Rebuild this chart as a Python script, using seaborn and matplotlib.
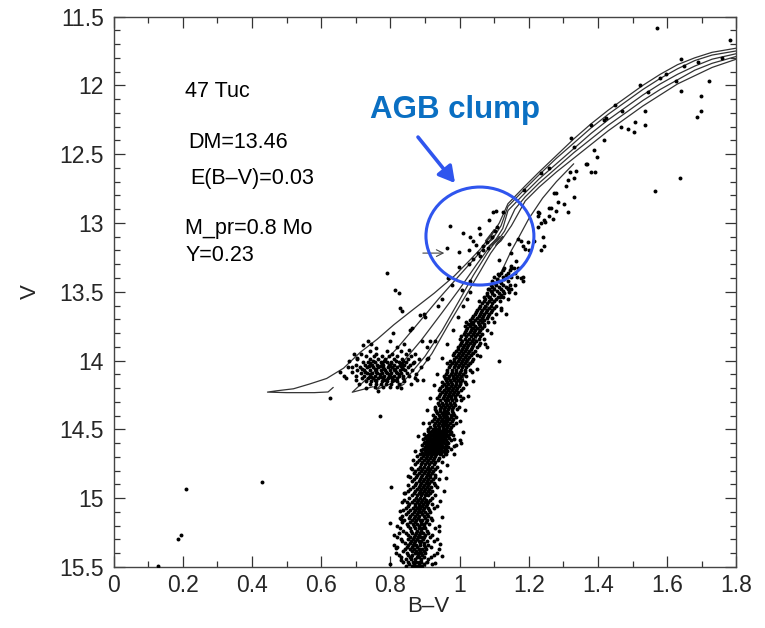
import matplotlib
matplotlib.use("Agg")
import matplotlib.pyplot as plt
import seaborn as sns
import pandas as pd
from matplotlib.patches import Ellipse
from matplotlib.ticker import MultipleLocator

# ---------------- data ----------------
x_ticks = [0, 0.2, 0.4, 0.6, 0.8, 1.0, 1.2, 1.4, 1.6, 1.8]
x_tick_labels = ["0", "0.2", "0.4", "0.6", "0.8", "1", "1.2", "1.4", "1.6", "1.8"]
y_ticks = [11.5, 12, 12.5, 13, 13.5, 14, 14.5, 15, 15.5]
y_tick_labels = ["11.5", "12", "12.5", "13", "13.5", "14", "14.5", "15", "15.5"]

# lower red giant branch: V -> list of B-V
lower_rgb_rows = {
    15.49: [0.845, 0.862, 0.871, 0.879, 0.886, 0.893],
    15.46: [0.838, 0.852, 0.866, 0.874, 0.882, 0.89, 0.905],
    15.43: [0.83, 0.856, 0.861, 0.877, 0.884, 0.897, 0.918],
    15.40: [0.815, 0.848, 0.87, 0.879, 0.888, 0.9, 0.935],
    15.37: [0.842, 0.858, 0.868, 0.883, 0.892, 0.904, 0.94],
    15.34: [0.81, 0.852, 0.866, 0.874, 0.887, 0.896, 0.91],
    15.31: [0.835, 0.86, 0.872, 0.882, 0.89, 0.905, 0.925],
    15.28: [0.82, 0.856, 0.868, 0.879, 0.889, 0.898, 0.915],
    15.25: [0.845, 0.863, 0.874, 0.886, 0.894, 0.908],
    15.22: [0.828, 0.856, 0.87, 0.882, 0.891, 0.9, 0.93],
    15.19: [0.848, 0.866, 0.878, 0.888, 0.897, 0.912],
    15.16: [0.84, 0.862, 0.874, 0.885, 0.893, 0.905, 0.92],
    15.13: [0.835, 0.858, 0.872, 0.884, 0.896, 0.91],
    15.10: [0.852, 0.868, 0.88, 0.889, 0.9, 0.916],
    15.07: [0.845, 0.865, 0.877, 0.887, 0.898, 0.908, 0.925],
    15.04: [0.855, 0.872, 0.883, 0.894, 0.905, 0.92],
    15.01: [0.84, 0.868, 0.88, 0.892, 0.902, 0.915],
    14.98: [0.862, 0.876, 0.89, 0.899, 0.91, 0.928],
    14.95: [0.85, 0.872, 0.887, 0.897, 0.908, 0.92],
    14.92: [0.866, 0.883, 0.895, 0.905, 0.918, 0.935],
    14.89: [0.875, 0.89, 0.902, 0.912, 0.925],
    14.86: [0.868, 0.886, 0.898, 0.91, 0.922, 0.94],
    14.83: [0.878, 0.893, 0.905, 0.916, 0.93],
    14.80: [0.872, 0.888, 0.9, 0.912, 0.924, 0.945],
    14.77: [0.885, 0.897, 0.909, 0.92, 0.935],
    14.74: [0.878, 0.893, 0.905, 0.917, 0.93, 0.948],
    14.71: [0.89, 0.902, 0.914, 0.926, 0.94],
    14.68: [0.885, 0.9, 0.91, 0.92, 0.932, 0.945, 0.96],
    14.66: [0.9, 0.912, 0.922, 0.93, 0.94, 0.952, 0.965],
    14.64: [0.895, 0.908, 0.918, 0.928, 0.937, 0.946, 0.958, 0.975],
    14.62: [0.903, 0.914, 0.924, 0.933, 0.942, 0.95, 0.962, 0.985],
    14.60: [0.898, 0.91, 0.92, 0.93, 0.938, 0.947, 0.955, 0.968],
    14.58: [0.905, 0.917, 0.926, 0.935, 0.944, 0.952, 0.961, 0.975, 1.0],
    14.56: [0.9, 0.912, 0.922, 0.932, 0.94, 0.949, 0.958, 0.97],
    14.54: [0.908, 0.918, 0.928, 0.937, 0.946, 0.955, 0.966, 0.98],
    14.52: [0.915, 0.925, 0.935, 0.944, 0.953, 0.962, 0.975],
    14.50: [0.91, 0.922, 0.932, 0.942, 0.951, 0.96, 0.972],
    14.47: [0.925, 0.937, 0.948, 0.957, 0.968, 0.98],
    14.44: [0.92, 0.935, 0.946, 0.955, 0.965, 0.978],
    14.41: [0.93, 0.943, 0.954, 0.963, 0.974, 0.99],
    14.38: [0.935, 0.948, 0.958, 0.968, 0.98],
    14.35: [0.93, 0.945, 0.956, 0.966, 0.977, 0.992],
    14.32: [0.94, 0.952, 0.963, 0.974, 0.986],
    14.29: [0.945, 0.958, 0.968, 0.978, 0.99, 1.005],
    14.26: [0.94, 0.955, 0.966, 0.976, 0.988, 1.0],
    14.23: [0.95, 0.962, 0.973, 0.984, 0.996],
    14.20: [0.945, 0.96, 0.97, 0.981, 0.992, 1.01],
    14.17: [0.955, 0.967, 0.978, 0.99, 1.002, 1.02],
    14.14: [0.96, 0.972, 0.985, 0.996, 1.008],
    14.11: [0.955, 0.97, 0.982, 0.993, 1.005, 1.02],
    14.08: [0.965, 0.978, 0.99, 1.002, 1.015, 1.035],
    14.05: [0.97, 0.983, 0.996, 1.008, 1.02],
    14.02: [0.978, 0.99, 1.003, 1.015, 1.03],
    13.99: [0.985, 0.998, 1.01, 1.022, 1.04],
    13.96: [0.98, 0.995, 1.007, 1.02, 1.033, 1.05],
    13.93: [0.99, 1.003, 1.016, 1.028, 1.045],
    13.90: [0.995, 1.01, 1.023, 1.036, 1.05, 1.08],
    13.87: [1.005, 1.018, 1.03, 1.043, 1.06],
    13.84: [1.0, 1.015, 1.028, 1.04, 1.055, 1.07],
    13.81: [1.012, 1.025, 1.038, 1.05, 1.065],
    13.78: [1.02, 1.033, 1.046, 1.06, 1.078],
    13.75: [1.015, 1.03, 1.044, 1.058, 1.072],
    13.72: [1.02, 1.04, 1.053, 1.066, 1.082],
    13.69: [1.035, 1.05, 1.064, 1.078, 1.095],
    13.66: [1.044, 1.058, 1.072, 1.086, 1.105, 1.134],
    13.63: [1.05, 1.066, 1.08, 1.094, 1.12],
    13.60: [1.06, 1.075, 1.09, 1.105],
    13.57: [1.055, 1.07, 1.085, 1.1, 1.118],
    13.54: [1.07, 1.085, 1.11, 1.125],
    13.51: [1.08, 1.095, 1.115, 1.13, 1.16],
    13.48: [1.082, 1.1, 1.12, 1.14, 1.149],
    13.45: [1.09, 1.105, 1.125, 1.145],
    13.42: [1.095, 1.115, 1.14],
    13.39: [1.1, 1.125, 1.148, 1.165, 1.183],
    13.36: [1.12, 1.14, 1.16],
    13.33: [1.13, 1.15, 1.17],
}

# more lower giant branch stars, between the rows above
lower_rgb_rows_b = {
    15.475: [0.80, 0.855, 0.868, 0.884, 0.898, 0.92],
    15.445: [0.845, 0.859, 0.872, 0.889, 0.91],
    15.415: [0.825, 0.85, 0.864, 0.881, 0.893, 0.925],
    15.385: [0.836, 0.862, 0.875, 0.886, 0.897],
    15.355: [0.82, 0.848, 0.862, 0.878, 0.9, 0.918],
    15.325: [0.843, 0.857, 0.869, 0.885, 0.898],
    15.295: [0.83, 0.85, 0.865, 0.878, 0.894, 0.935],
    15.265: [0.81, 0.852, 0.87, 0.883, 0.9, 0.92],
    15.235: [0.838, 0.86, 0.876, 0.888, 0.905],
    15.205: [0.818, 0.852, 0.868, 0.884, 0.896, 0.94],
    15.175: [0.835, 0.858, 0.871, 0.89, 0.902],
    15.145: [0.828, 0.853, 0.868, 0.88, 0.9, 0.918],
    15.115: [0.845, 0.862, 0.876, 0.893, 0.905],
    15.085: [0.838, 0.857, 0.872, 0.884, 0.895, 0.912],
    15.055: [0.852, 0.87, 0.882, 0.892, 0.903, 0.935],
    15.025: [0.848, 0.862, 0.877, 0.888, 0.9, 0.91],
    14.995: [0.855, 0.873, 0.885, 0.896, 0.92],
    14.965: [0.842, 0.867, 0.882, 0.893, 0.904, 0.915],
    14.935: [0.858, 0.878, 0.89, 0.9, 0.912],
    14.905: [0.85, 0.87, 0.885, 0.896, 0.908, 0.93],
    14.875: [0.862, 0.882, 0.894, 0.906, 0.918],
    14.845: [0.858, 0.875, 0.89, 0.902, 0.914, 0.928],
    14.815: [0.868, 0.884, 0.897, 0.908, 0.92],
    14.785: [0.862, 0.879, 0.893, 0.905, 0.916, 0.93],
    14.755: [0.872, 0.889, 0.901, 0.913, 0.926],
    14.725: [0.866, 0.884, 0.898, 0.91, 0.922, 0.937],
    14.695: [0.878, 0.895, 0.906, 0.918, 0.93, 0.952],
    14.67: [0.893, 0.906, 0.917, 0.926, 0.935, 0.947, 0.958],
    14.65: [0.89, 0.903, 0.914, 0.924, 0.934, 0.943, 0.96],
    14.63: [0.9, 0.91, 0.92, 0.93, 0.94, 0.953, 0.968],
    14.61: [0.893, 0.905, 0.915, 0.925, 0.935, 0.944, 0.96, 0.99],
    14.59: [0.9, 0.912, 0.922, 0.932, 0.941, 0.95, 0.964],
    14.57: [0.895, 0.908, 0.918, 0.928, 0.938, 0.947, 0.956, 0.983],
    14.55: [0.904, 0.915, 0.925, 0.935, 0.944, 0.953, 0.963],
    14.53: [0.898, 0.912, 0.922, 0.932, 0.941, 0.95, 0.96, 0.972],
    14.51: [0.91, 0.92, 0.93, 0.94, 0.949, 0.958, 0.968],
    14.485: [0.915, 0.928, 0.94, 0.952, 0.963, 0.975],
    14.455: [0.912, 0.93, 0.942, 0.951, 0.961, 0.972, 0.99],
    14.425: [0.925, 0.938, 0.95, 0.96, 0.97, 0.982],
    14.395: [0.922, 0.94, 0.952, 0.962, 0.974, 0.985],
    14.365: [0.932, 0.944, 0.955, 0.965, 0.978],
    14.335: [0.928, 0.946, 0.958, 0.97, 0.982, 0.998],
    14.305: [0.938, 0.95, 0.962, 0.973, 0.985],
    14.275: [0.935, 0.952, 0.964, 0.975, 0.986, 1.01],
    14.245: [0.944, 0.958, 0.97, 0.98, 0.992],
    14.215: [0.94, 0.955, 0.966, 0.978, 0.99, 1.004],
    14.185: [0.95, 0.962, 0.974, 0.986, 0.998],
    14.155: [0.948, 0.964, 0.976, 0.99, 1.0, 1.015],
    14.125: [0.958, 0.968, 0.98, 0.99, 1.002],
    14.095: [0.96, 0.974, 0.986, 0.998, 1.01],
    14.065: [0.964, 0.977, 0.99, 1.003, 1.016, 1.03],
    14.035: [0.973, 0.986, 0.998, 1.01, 1.024],
    14.005: [0.972, 0.985, 0.997, 1.008, 1.02, 1.035],
    13.975: [0.99, 1.002, 1.015, 1.028],
    13.945: [0.985, 0.998, 1.011, 1.024, 1.04],
    13.915: [0.995, 1.008, 1.02, 1.032],
    13.885: [1.0, 1.012, 1.025, 1.038, 1.055],
    13.855: [1.008, 1.022, 1.035, 1.048],
    13.825: [1.005, 1.02, 1.033, 1.045, 1.06],
    13.795: [1.015, 1.03, 1.042, 1.055],
    13.765: [1.022, 1.037, 1.05, 1.065],
    13.735: [1.025, 1.04, 1.055, 1.07],
    13.705: [1.03, 1.045, 1.058, 1.072],
    13.675: [1.04, 1.055, 1.068, 1.083],
    13.645: [1.048, 1.062, 1.077, 1.09],
    13.615: [1.055, 1.07, 1.086, 1.1],
    13.585: [1.065, 1.08, 1.095],
    13.555: [1.075, 1.09, 1.105],
    13.525: [1.078, 1.1, 1.12],
    13.495: [1.09, 1.108, 1.125],
    13.465: [1.095, 1.115, 1.135],
    13.435: [1.1, 1.12],
    13.405: [1.108, 1.13],
    13.375: [1.115, 1.135],
    13.345: [1.125, 1.145],
}

# scattered stars along both edges of the giant branch
rgb_edge_stars = [(0.83, 15.45), (0.815, 15.36), (0.825, 15.25), (0.83, 15.15), (0.835, 15.03),
                  (0.84, 14.96), (0.85, 14.84), (0.86, 14.78), (0.87, 14.66), (0.88, 14.55),
                  (0.895, 14.45), (0.905, 14.36), (0.915, 14.27), (0.925, 14.18), (0.935, 14.1),
                  (0.95, 13.98), (0.965, 13.88), (0.98, 13.78), (0.995, 13.68), (1.01, 13.6),
                  (1.03, 13.5), (0.93, 15.47), (0.95, 15.42), (0.945, 15.33), (0.94, 15.24),
                  (0.95, 15.14), (0.945, 15.02), (0.955, 14.95), (0.96, 14.85), (0.965, 14.76),
                  (0.985, 14.68), (1.005, 14.6), (1.01, 14.52), (1.0, 14.44), (1.015, 14.36),
                  (1.025, 14.26), (1.04, 14.15), (1.05, 14.06), (1.06, 13.97), (1.075, 13.88),
                  (1.09, 13.8), (1.1, 13.72), (1.12, 13.62), (1.14, 13.55), (1.16, 13.45)]

# horizontal branch clump: V -> list of B-V
hb_rows = {
    13.93: [0.74, 0.79, 0.83],
    13.95: [0.715, 0.76, 0.805, 0.845],
    13.97: [0.73, 0.752, 0.775, 0.795, 0.82, 0.86],
    13.99: [0.705, 0.74, 0.765, 0.785, 0.81, 0.835, 0.85],
    14.01: [0.72, 0.735, 0.755, 0.772, 0.79, 0.803, 0.825, 0.845, 0.868],
    14.03: [0.7, 0.728, 0.746, 0.762, 0.778, 0.795, 0.81, 0.828, 0.84, 0.858],
    14.05: [0.69, 0.712, 0.733, 0.75, 0.765, 0.78, 0.792, 0.806, 0.82, 0.835, 0.852],
    14.07: [0.705, 0.725, 0.742, 0.758, 0.772, 0.786, 0.8, 0.813, 0.827, 0.842, 0.862],
    14.09: [0.715, 0.732, 0.748, 0.762, 0.776, 0.79, 0.803, 0.818, 0.832, 0.848],
    14.11: [0.7, 0.724, 0.74, 0.755, 0.77, 0.783, 0.797, 0.81, 0.824, 0.838, 0.855],
    14.13: [0.718, 0.735, 0.75, 0.765, 0.779, 0.792, 0.806, 0.82, 0.836, 0.87],
    14.15: [0.73, 0.745, 0.76, 0.775, 0.79, 0.805, 0.818, 0.84],
    14.17: [0.74, 0.758, 0.772, 0.788, 0.802, 0.825],
    14.19: [0.755, 0.78, 0.8, 0.82],
}
hb_rows_b = {
    14.00: [0.75, 0.782, 0.815, 0.838],
    14.02: [0.74, 0.775, 0.802, 0.835],
    14.04: [0.738, 0.77, 0.8, 0.83],
    14.06: [0.718, 0.755, 0.782, 0.81, 0.838],
    14.08: [0.728, 0.76, 0.788, 0.816],
    14.10: [0.74, 0.77, 0.798, 0.826],
    14.12: [0.745, 0.774, 0.802],
    14.14: [0.756, 0.785, 0.812],
}

hb_extra = [(0.665, 14.11), (0.678, 14.05), (0.69, 14.08), (0.72, 13.89), (0.735, 13.86),
            (0.705, 13.98), (0.672, 14.13), (0.895, 14.14), (0.888, 14.05), (0.882, 13.99),
            (0.68, 14.0), (0.695, 13.95), (0.71, 14.17), (0.73, 14.2), (0.765, 14.22),
            (0.83, 14.2), (0.86, 14.17), (0.875, 14.1), (0.87, 13.95), (0.855, 13.92),
            (0.82, 13.9), (0.76, 13.91), (0.745, 13.88), (0.80, 13.86), (0.84, 13.88),
            (0.865, 14.02), (0.655, 14.08), (0.7, 14.14)]

post_hb = [(0.79, 13.36), (0.813, 13.49), (0.825, 13.51), (0.828, 13.62), (0.834, 13.64),
           (0.886, 13.67), (0.898, 13.66), (0.863, 13.76), (0.856, 13.78), (0.808, 13.80),
           (0.892, 13.86), (0.915, 13.86), (0.906, 13.90), (0.93, 13.86), (0.95, 13.55),
           (0.906, 13.99), (0.877, 14.14), (0.901, 13.68), (0.909, 13.98), (1.032, 13.73),
           (1.038, 13.76), (0.964, 14.02), (1.022, 13.55), (1.084, 13.54), (0.978, 13.45),
           (0.938, 13.60), (0.968, 13.40), (0.998, 13.32), (1.113, 14.0)]

agb_clump = [(0.973, 13.02), (1.011, 13.07), (1.031, 13.10), (1.06, 13.08), (1.055, 13.04),
             (1.084, 12.98), (1.125, 12.92), (1.098, 12.92), (0.964, 13.18), (0.998, 13.21),
             (1.028, 13.2), (1.04, 13.26), (1.06, 13.24), (1.081, 13.18), (1.068, 13.17),
             (1.113, 13.27), (1.142, 13.15), (1.148, 13.22), (1.168, 13.12), (1.177, 13.13),
             (1.197, 13.14), (1.183, 13.17), (1.188, 13.19), (1.2, 13.2), (1.148, 13.31),
             (1.158, 13.33), (1.163, 13.28), (1.177, 13.4), (1.183, 13.42), (1.11, 13.37),
             (1.026, 13.3), (1.008, 13.49), (1.084, 13.48), (1.139, 13.47), (1.143, 13.5),
             (1.118, 13.54), (1.226, 12.92), (1.235, 13.0), (1.248, 12.99), (1.235, 13.2),
             (1.243, 13.17), (1.053, 13.22), (1.068, 13.2), (1.078, 13.14), (1.093, 13.1),
             (1.103, 13.06), (1.108, 13.03), (1.048, 13.16), (1.038, 13.13), (1.031, 13.42)]

upper_rgb = [(1.215, 13.13), (1.241, 13.1), (1.226, 13.03), (1.27, 12.97), (1.229, 12.93),
             (1.258, 12.89), (1.284, 12.85), (1.331, 12.81), (1.278, 12.78), (1.308, 12.73),
             (1.331, 12.67), (1.337, 12.62), (1.38, 12.63), (1.366, 12.57), (1.389, 12.47),
             (1.418, 12.40), (1.468, 12.30), (1.488, 12.32), (1.506, 12.27), (1.535, 12.29),
             (1.313, 12.69), (1.273, 12.78), (1.303, 12.86), (1.264, 12.89), (1.278, 12.91),
             (1.258, 12.95), (1.313, 12.92), (1.244, 12.98), (1.228, 12.95), (1.398, 12.52),
             (1.368, 12.57), (1.393, 12.63), (1.318, 12.63), (1.322, 12.38), (1.38, 12.29),
             (1.418, 12.25), (1.235, 12.64), (1.186, 12.76), (1.104, 12.91), (1.64, 11.81),
             (1.648, 11.86), (1.72, 11.97), (1.598, 11.92), (1.523, 12.0), (1.545, 12.05),
             (1.64, 12.04), (1.698, 12.08), (1.625, 11.97), (1.535, 12.19), (1.698, 12.19),
             (1.686, 12.23), (1.471, 12.19), (1.424, 12.24), (1.503, 12.34), (1.33, 12.45),
             (1.26, 12.6), (1.45, 12.14), (1.58, 11.95), (1.69, 11.83), (1.76, 11.8)]

outliers = [(0.128, 15.49), (0.186, 15.30), (0.195, 15.27), (0.21, 14.93), (0.43, 14.88),
            (0.627, 14.27), (0.77, 14.40), (0.802, 14.92), (0.828, 15.09), (0.798, 15.18),
            (1.57, 11.58), (1.782, 11.67), (1.564, 12.77), (1.636, 12.67)]

# evolutionary tracks
t1_bv = [0.635, 0.62, 0.58, 0.50, 0.445, 0.47, 0.52, 0.567, 0.616, 0.665, 0.713, 0.762, 0.81,
         0.868, 0.927, 0.985, 1.03, 1.06, 1.085, 1.10, 1.075, 1.09, 1.115, 1.14, 1.19, 1.23,
         1.28, 1.33, 1.38, 1.43, 1.48, 1.53, 1.58, 1.63, 1.68, 1.73, 1.80]
t1_v = [14.195, 14.228, 14.233, 14.233, 14.229, 14.22, 14.205, 14.17, 14.13, 14.055, 13.94,
        13.845, 13.74, 13.625, 13.51, 13.385, 13.27, 13.19, 13.11, 13.05, 13.13, 13.10, 13.0,
        12.86, 12.73, 12.63, 12.51, 12.39, 12.28, 12.18, 12.09, 12.00, 11.92, 11.85, 11.80,
        11.76, 11.73]
t2_bv = [0.75, 0.69, 0.72, 0.77, 0.82, 0.88, 0.94, 1.0, 1.05, 1.08, 1.10, 1.08, 1.095, 1.12,
         1.14, 1.19, 1.23, 1.28, 1.33, 1.38, 1.43, 1.48, 1.53, 1.58, 1.63, 1.68, 1.73, 1.80]
t2_v = [14.19, 14.23, 14.16, 14.04, 13.91, 13.73, 13.55, 13.38, 13.24, 13.15, 13.09, 13.15,
        13.12, 13.02, 12.88, 12.75, 12.65, 12.53, 12.42, 12.31, 12.21, 12.12, 12.03, 11.95,
        11.88, 11.82, 11.78, 11.75]
t3_bv = [0.80, 0.76, 0.79, 0.84, 0.89, 0.95, 1.0, 1.05, 1.085, 1.105, 1.085, 1.10, 1.125,
         1.14, 1.19, 1.23, 1.28, 1.33, 1.38, 1.43, 1.48, 1.53, 1.58, 1.63, 1.68, 1.73, 1.80]
t3_v = [14.17, 14.21, 14.13, 14.0, 13.85, 13.65, 13.48, 13.30, 13.18, 13.12, 13.17, 13.14,
        13.04, 12.91, 12.78, 12.68, 12.57, 12.46, 12.35, 12.25, 12.16, 12.07, 11.99, 11.92,
        11.86, 11.81, 11.77]
t4_bv = [0.84, 0.82, 0.85, 0.90, 0.95, 1.0, 1.04, 1.08, 1.10, 1.115, 1.095, 1.11, 1.13, 1.16,
         1.19, 1.23, 1.28, 1.33, 1.38, 1.43, 1.48, 1.53, 1.58, 1.63, 1.68, 1.73, 1.80]
t4_v = [14.17, 14.20, 14.12, 13.97, 13.78, 13.56, 13.38, 13.22, 13.15, 13.10, 13.16, 13.13,
        13.06, 12.90, 12.81, 12.71, 12.60, 12.49, 12.39, 12.29, 12.20, 12.11, 12.03, 11.96,
        11.89, 11.84, 11.79]
t5_bv = [0.87, 0.92, 0.97, 1.02, 1.06, 1.09, 1.11, 1.125, 1.105, 1.12, 1.15, 1.19, 1.23,
         1.28, 1.33, 1.38, 1.43, 1.48, 1.53, 1.58, 1.63, 1.68, 1.73, 1.80]
t5_v = [14.12, 13.95, 13.73, 13.52, 13.35, 13.22, 13.15, 13.10, 13.16, 13.13, 13.02, 12.84,
        12.74, 12.63, 12.53, 12.43, 12.33, 12.24, 12.15, 12.07, 11.99, 11.93, 11.87, 11.81]
rgb_line_bv = [1.005, 1.03, 1.06, 1.09, 1.12, 1.15, 1.17, 1.20, 1.24, 1.28, 1.33]
rgb_line_v = [14.18, 13.98, 13.75, 13.55, 13.36, 13.2, 13.11, 12.97, 12.82, 12.70, 12.57]

info_lines = ["47 Tuc", "DM=13.46", "E(B\u2013V)=0.03", "M_pr=0.8 Mo", "Y=0.23"]

# ---------------- build tables ----------------
rows = []
for table in (lower_rgb_rows, lower_rgb_rows_b, hb_rows, hb_rows_b):
    for v, bvs in table.items():
        rows += [(b, v) for b in bvs]
rows += rgb_edge_stars + hb_extra + post_hb + agb_clump + upper_rgb + outliers
stars = pd.DataFrame(rows, columns=["bv", "v"])

tracks = [(t1_bv, t1_v), (t2_bv, t2_v), (t3_bv, t3_v), (t4_bv, t4_v), (t5_bv, t5_v),
          (rgb_line_bv, rgb_line_v)]

# ---------------- figure ----------------
sns.set_theme(style="ticks")
plt.rcParams["font.family"] = ["Liberation Sans", "DejaVu Sans"]

fig = plt.figure(figsize=(7.65, 6.28), dpi=100)
ax = fig.add_axes([0.1484, 0.0971, 0.8141, 0.8766])

for tb, tv in tracks:
    sns.lineplot(x=tb, y=tv, sort=False, estimator=None, color="#333333", lw=0.9,
                 ax=ax, zorder=2)

sns.scatterplot(data=stars, x="bv", y="v", color="black", s=8, linewidth=0,
                ax=ax, zorder=3, legend=False)

ax.set_xlim(0, 1.8)
ax.set_ylim(15.5, 11.5)
ax.set_xticks(x_ticks)
ax.set_xticklabels(x_tick_labels)
ax.set_yticks(y_ticks)
ax.set_yticklabels(y_tick_labels)
ax.xaxis.set_minor_locator(MultipleLocator(0.1))
ax.yaxis.set_minor_locator(MultipleLocator(0.1))
ax.tick_params(which="both", direction="in", top=True, right=True, color="#333333",
               width=0.9, labelsize=16.5)
ax.tick_params(which="major", length=8)
ax.tick_params(which="minor", length=4)
ax.tick_params(axis="x", pad=5)
ax.tick_params(axis="y", pad=7)
for sp in ax.spines.values():
    sp.set_color("#444444")
    sp.set_linewidth(1.0)

ax.set_xlabel("B\u2013V", fontsize=16)
ax.xaxis.label.set_va("center")
ax.xaxis.set_label_coords(0.505, -0.071)
ax.set_ylabel("V", fontsize=16)
ax.yaxis.label.set_va("center")
ax.yaxis.set_label_coords(-0.134, 0.4995)

# info text
info_pos = [(0.207, 12.046), (0.215, 12.419), (0.221, 12.674), (0.207, 13.037), (0.207, 13.233)]
for (px, py), txt in zip(info_pos, info_lines):
    ax.text(px, py, txt, fontsize=15.5, ha="left", va="center", color="black")

# small arrow
ax.annotate("", xy=(0.964, 13.219), xytext=(0.886, 13.219),
            arrowprops=dict(arrowstyle="->", color="#444444", lw=0.8))

# AGB clump annotation
blue = "#2f55ee"
ax.add_patch(Ellipse((1.059, 13.095), 0.312, 0.712, fill=False, edgecolor=blue, lw=2.2,
                     zorder=4))
ax.annotate("", xy=(0.987, 12.71), xytext=(0.880, 12.376),
            arrowprops=dict(arrowstyle="-|>,head_length=0.8,head_width=0.45", color=blue,
                            lw=2.6, shrinkA=0, shrinkB=0))
ax.text(0.741, 12.18, "AGB clump", fontsize=22.5, fontweight="bold", color="#0a6fc2",
        ha="left", va="center")

fig.savefig("out.png", dpi=100)
